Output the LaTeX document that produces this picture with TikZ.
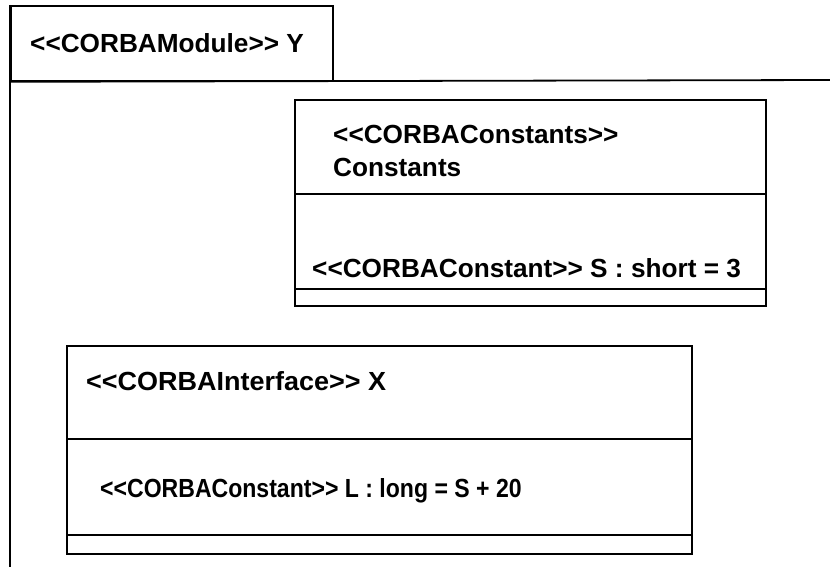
\documentclass[tikz,border=0pt]{standalone}
\usepackage{fontspec}
\setmainfont{Liberation Sans}[Ligatures=TeXOff]
\usepackage{tikz}

\begin{document}
\begin{tikzpicture}
	[x=1pt,y=-1pt,
	 box/.style={draw=black,line width=1.8pt,inner sep=0pt,anchor=north west},
	 lbl/.style={font=\bfseries\fontsize{26.2}{30}\selectfont,inner sep=0pt,anchor=base west}]
	\useasboundingbox (0,0) rectangle (830,567);
	% module Y with its tab
	\coordinate (ybot) at (10,567);
	\coordinate (yend) at (830,80);
	\node[box,minimum width=322pt,minimum height=75pt] (ytab) at (10,5) {};
	\draw[line width=1.8pt] (ytab.north west) -- (ybot);
	\draw[line width=1.8pt] (ytab.south west) -- (yend);
	\node[lbl] (ylbl) at (30,53) {<<CORBAModule>> Y};
	% constants class
	\node[box,minimum width=471pt,minimum height=206pt] (cst) at (294,99) {};
	\draw[line width=1.8pt] (cst.west |- 0,194) -- (cst.east |- 0,194);
	\draw[line width=1.8pt] (cst.west |- 0,289) -- (cst.east |- 0,289);
	\node[lbl] (cstname) at (333,143) {<<CORBAConstants>>};
	\node[lbl] (cstname2) at (333,176) {Constants};
	\node[lbl] (cstattr) at (312,277) {<<CORBAConstant>> S : short = 3};
	% interface X
	\node[box,minimum width=625pt,minimum height=208pt] (ifx) at (66,345) {};
	\draw[line width=1.8pt] (ifx.west |- 0,439) -- (ifx.east |- 0,439);
	\draw[line width=1.8pt] (ifx.west |- 0,535) -- (ifx.east |- 0,535);
	\node[lbl] (ifxname) at (86,390) {\scalebox{1.03}[1]{<<CORBAInterface>> X}};
	\node[lbl] (ifxattr) at (100,497) {\scalebox{0.88}[1]{<<CORBAConstant>> L : long = S + 20}};
\end{tikzpicture}
\end{document}
